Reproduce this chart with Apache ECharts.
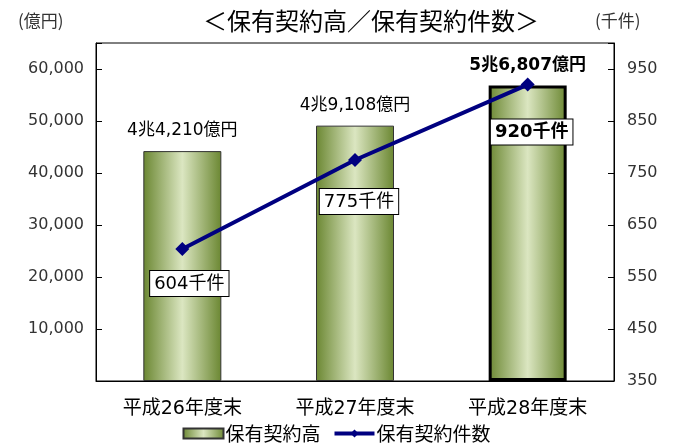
<!DOCTYPE html>
<html><head><meta charset="utf-8">
<script src="https://cdn.jsdelivr.net/npm/echarts@6/dist/echarts.min.js"></script>
<style>html,body{margin:0;padding:0;background:#fff}#c{width:673px;height:448px}</style>
</head><body><div id="c"></div>
<script>
var categories = ['平成26年度末', '平成27年度末', '平成28年度末'];
var amountValues = [44210, 49108, 56807];
var amountLabels = ['4兆4,210億円', '4兆9,108億円', '5兆6,807億円'];
var countValues = [604, 775, 920];
var countLabels = ['604千件', '775千件', '920千件'];
var leftTicks = [10000, 20000, 30000, 40000, 50000, 60000];
var rightTicks = [350, 450, 550, 650, 750, 850, 950];

var FONT = '"DejaVu Sans", "Noto Sans CJK JP", sans-serif';
var CJK = '"Noto Sans CJK JP", sans-serif';
var grad = {type:'linear',x:0,y:0,x2:1,y2:0,colorStops:[
  {offset:0,color:'#6b8732'},{offset:0.5,color:'#dbe6c1'},{offset:1,color:'#6b8732'}]};

var barData = amountValues.map(function(v,i){
  var last = i === amountValues.length-1;
  return {value:v,
    itemStyle:{color:grad,borderColor:last?'#000':'#333',borderWidth:last?3:1},
    label:{show:true,position:'top',distance:12,formatter:amountLabels[i],
      fontWeight:last?'bold':'normal',fontSize:17,color:'#000',fontFamily:FONT}};
});
var labelDist = [15, 22, 28];
var labelShift = [7, 4, 4];
var lineData = countValues.map(function(v,i){
  var last = i === countValues.length-1;
  return {value:v,label:{show:true,position:'bottom',distance:labelDist[i],offset:[labelShift[i],0],formatter:countLabels[i],
    backgroundColor:'#fff',borderColor:'#000',borderWidth:1,padding:[4,4,3,4],
    fontSize:18,color:'#000',fontWeight:last?'bold':'normal',fontFamily:FONT}};
});

var chart = echarts.init(document.getElementById('c'));
chart.setOption({
  animation:false,
  textStyle:{fontFamily:FONT},
  title:[
    {text:'＜保有契約高／保有契約件数＞',left:366,top:4,textAlign:'center',textStyle:{fontSize:24,fontWeight:'normal',color:'#000',fontFamily:CJK}},
    {text:'(億円)',left:13,top:7,textStyle:{fontSize:17,fontWeight:'normal',color:'#333',fontFamily:CJK}},
    {text:'(千件)',left:590,top:7,textStyle:{fontSize:17,fontWeight:'normal',color:'#333',fontFamily:CJK}}
  ],
  legend:{bottom:0,left:'center',itemGap:12,itemWidth:40,itemHeight:10,
    textStyle:{fontSize:19,color:'#000',fontFamily:CJK,padding:[0,0,0,-3]},
    data:[{name:'保有契約高',icon:'rect'},
          {name:'保有契約件数',lineStyle:{width:4,color:'#000080'},itemStyle:{color:'#000080'}}]},
  grid:{left:96,right:59,top:43,bottom:67,show:true,borderColor:'#000',borderWidth:1,containLabel:false},
  xAxis:{type:'category',data:categories,
    axisLine:{lineStyle:{color:'#000'}},axisTick:{show:false},
    axisLabel:{fontSize:19,color:'#000',margin:19,fontFamily:FONT}},
  yAxis:[
    {type:'value',min:0,max:65000,interval:10000,position:'left',
      axisLine:{show:true,lineStyle:{color:'#000'}},
      axisTick:{show:true,inside:true,length:6,lineStyle:{color:'#000'}},
      splitLine:{show:false},
      axisLabel:{fontSize:16,color:'#333',margin:12,fontFamily:'"DejaVu Sans", sans-serif',
        formatter:function(v){return leftTicks.indexOf(v)>=0?v.toLocaleString('en-US'):'';}}},
    {type:'value',min:350,max:1000,interval:100,position:'right',
      axisLine:{show:true,lineStyle:{color:'#000'}},
      axisTick:{show:true,inside:true,length:6,lineStyle:{color:'#000'}},
      splitLine:{show:false},
      axisLabel:{fontSize:16,color:'#333',margin:13,fontFamily:'"DejaVu Sans", sans-serif',
        formatter:function(v){return rightTicks.indexOf(v)>=0?String(v):'';}}}
  ],
  series:[
    {name:'保有契約高',type:'bar',yAxisIndex:0,barWidth:78,data:barData,
      itemStyle:{color:grad,borderColor:'#333',borderWidth:1}},
    {name:'保有契約件数',type:'line',yAxisIndex:1,data:lineData,
      symbol:'diamond',symbolSize:14,
      lineStyle:{color:'#000080',width:4},itemStyle:{color:'#000080'}}
  ]
});
</script></body></html>
